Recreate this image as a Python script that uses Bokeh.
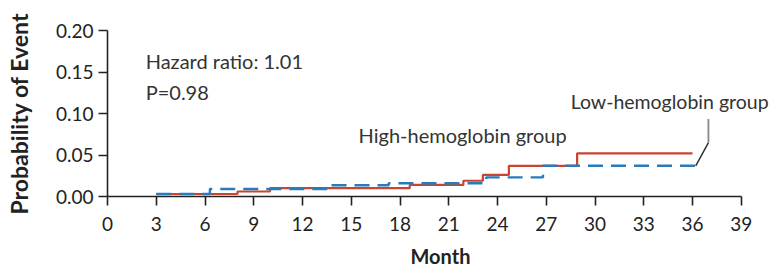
from bokeh.plotting import figure
from bokeh.models import Range1d, FixedTicker, NumeralTickFormatter, Label
from bokeh.embed import file_html
from bokeh.resources import INLINE

# ---- data ----
month_ticks = [0, 3, 6, 9, 12, 15, 18, 21, 24, 27, 30, 33, 36, 39]
prob_ticks = [0.00, 0.05, 0.10, 0.15, 0.20]

high_months = [3, 8, 10, 18.6, 21.9, 23.1, 24.7, 28.9, 36]
high_prob = [0.003, 0.006, 0.010, 0.014, 0.019, 0.026, 0.037, 0.052, 0.052]

low_months = [3, 6.3, 13.7, 17.3, 23.3, 26.8, 36.5]
low_prob = [0.003, 0.009, 0.0135, 0.016, 0.023, 0.037, 0.037]

hazard_text = "Hazard ratio: 1.01"
p_text = "P=0.98"
high_label = "High-hemoglobin group"
low_label = "Low-hemoglobin group"

FONT = "Lato"
RED = "#cc4430"
BLUE = "#2b7bbb"
INK = "#222222"

W, H = 773, 270
LEFT, TOP, BOTTOM = 107, 30, 72
px_per_month = 16.25
x_end = (W - LEFT) / px_per_month

p = figure(width=W, height=H, output_backend="svg", toolbar_location=None,
           x_range=Range1d(0, x_end), y_range=Range1d(0, 0.20),
           min_border_left=LEFT, min_border_right=0, min_border_top=TOP,
           min_border_bottom=BOTTOM)
p.outline_line_color = None
p.grid.visible = False
p.background_fill_color = "white"
p.border_fill_color = "white"

# axes
for ax in (p.xaxis[0], p.yaxis[0]):
    ax.axis_line_color = INK
    ax.axis_line_width = 1.6
    ax.major_tick_line_color = INK
    ax.major_tick_line_width = 1.6
    ax.major_tick_out = 9
    ax.major_tick_in = 0
    ax.minor_tick_out = 0
    ax.minor_tick_in = 0
    ax.major_label_text_font = FONT
    ax.major_label_text_font_size = "19px"
    ax.major_label_text_color = INK

p.xaxis.bounds = (0, 39)
p.xaxis.ticker = FixedTicker(ticks=month_ticks)
p.xaxis.major_label_standoff = 11
p.xaxis.major_label_text_line_height = 0.9
p.yaxis.ticker = FixedTicker(ticks=prob_ticks)
p.yaxis.formatter = NumeralTickFormatter(format="0.00")
p.yaxis.major_label_standoff = 5

p.yaxis.axis_label = "Probability of Event"
p.yaxis.axis_label_text_font = FONT
p.yaxis.axis_label_text_font_style = "bold"
p.yaxis.axis_label_text_font_size = "23px"
p.yaxis.axis_label_text_color = INK
p.yaxis.axis_label_standoff = 20

p.xaxis.axis_label = "Month"
p.xaxis.axis_label_text_font = FONT
p.xaxis.axis_label_text_font_style = "bold"
p.xaxis.axis_label_text_font_size = "20px"
p.xaxis.axis_label_text_color = INK
p.xaxis.axis_label_text_line_height = 0.9
p.xaxis.axis_label_standoff = 10

# curves
p.step(high_months, high_prob, mode="after", line_color=RED, line_width=2.2)
p.step(low_months, low_prob, mode="after", line_color=BLUE, line_width=2.4, line_dash="15 8")

# leader line for the low-hemoglobin label
lx = [36.98, 36.98, 36.2]
ly = [0.0935, 0.065, low_prob[-1]]
p.line(lx[:2], ly[:2], line_color="#888888", line_width=1.8)
p.line(lx[1:], ly[1:], line_color="#333333", line_width=1.5)

# annotations
for txt, x, y, fs in [(hazard_text, 2.35, 0.163, "20px"), (p_text, 2.35, 0.126, "20px"),
                      (high_label, 15.45, 0.074, "20px"), (low_label, 28.5, 0.1145, "19.5px")]:
    p.add_layout(Label(x=x, y=y, text=txt, text_font=FONT, text_font_size=fs,
                       text_color="#333333", text_baseline="middle", text_align="left"))

open("out.html", "w").write(file_html(p, INLINE))
